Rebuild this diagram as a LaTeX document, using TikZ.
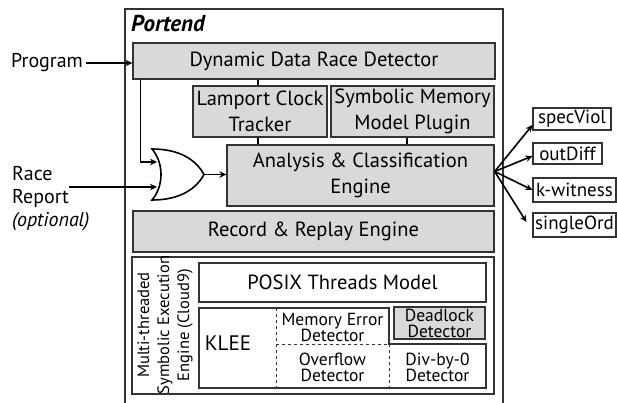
\documentclass[tikz,border=0pt]{standalone}
\usepackage{fontspec}
\setmainfont{PT Sans}
\usetikzlibrary{arrows.meta}
\definecolor{boxgray}{HTML}{D9D9D9}
\definecolor{edge}{HTML}{333333}
\tikzset{
  blk/.style={draw=edge, line width=1.3pt, fill=boxgray, inner sep=0pt, align=center, font=\fontsize{20.5}{25.5}\selectfont},
  wblk/.style={blk, fill=white},
  small/.style={font=\fontsize{17.5}{16}\selectfont, align=center, inner sep=0pt},
  outbox/.style={draw=edge, line width=1.1pt, fill=white, inner sep=0pt, font=\fontsize{19}{22}\selectfont},
  arr/.style={draw=black, line width=1.6pt, -{Stealth[length=7pt,width=6.5pt]}},
  conn/.style={draw=black, line width=1.4pt},
  lbl/.style={font=\fontsize{20}{23}\selectfont, inner sep=0pt, align=left},
}
\begin{document}
\begin{tikzpicture}[x=1pt,y=-1pt]
\useasboundingbox (0,0) rectangle (617,403);
% outer Portend frame (open at bottom)
\draw[draw=edge, line width=1.1pt] (125,410) |- (503,9) -- (503,410);
\node[anchor=west, inner sep=0pt, font=\fontsize{23}{26}\selectfont\bfseries\itshape] (portend) at (131,23) {Portend};

\node[blk, minimum width=362pt, minimum height=36pt] (dyn) at (314,61) {Dynamic Data Race Detector};
\node[blk, minimum width=134pt, minimum height=51pt] (lamport) at (260,111.5) {Lamport Clock\\Tracker};
\node[blk, minimum width=163pt, minimum height=51pt] (symb) at (412.5,111.5) {Symbolic Memory\\Model Plugin};
\node[blk, minimum width=267pt, minimum height=61pt] (analysis) at (360.5,175.5) {Analysis \& Classification\\Engine};
\node[blk, minimum width=361pt, minimum height=41pt] (record) at (313.5,231.5) {Record \& Replay Engine};

% Cloud9 container
\node[wblk, line width=1.1pt, minimum width=362pt, minimum height=137pt] (cloud) at (313,325.5) {};
\node[small, rotate=90, font=\fontsize{16.5}{20}\selectfont] (cloudlbl) at (165,325) {Multi-threaded\\Symbolic Execution\\Engine (Cloud9)};
\node[wblk, line width=1.1pt, minimum width=287pt, minimum height=39pt] (posix) at (342.5,282.5) {POSIX Threads Model};

% KLEE region
\draw[draw=edge, line width=1.1pt, fill=white] (199,308) -- (389,308) -- (389,344) -- (486,344) -- (486,388) -- (199,388) -- cycle;
\node[inner sep=0pt, font=\fontsize{21}{22}\selectfont] (klee) at (228,343) {KLEE};
\draw[draw=edge, line width=0.8pt, dashed] (276,308) -- (276,388);
\draw[draw=edge, line width=0.8pt, dashed] (276,344) -- (389,344);
\draw[draw=edge, line width=0.8pt, dashed] (389,344) -- (389,388);
\node[small] (memerr) at (332.5,327) {Memory Error\\Detector};
\node[small] (overflow) at (332.5,367) {Overflow\\Detector};
\node[small] (divzero) at (437.5,367) {Div-by-0\\Detector};
\node[blk, line width=1.1pt, minimum width=91pt, minimum height=32pt, font=\fontsize{17.5}{16}\selectfont] (deadlock) at (439.5,323) {Deadlock\\Detector};

% vertical connectors
\draw[conn] ([xshift=-2pt]lamport.north) -- ([xshift=-2pt]lamport.north |- dyn.south);
\draw[conn] ([xshift=-2pt]lamport.south) -- ([xshift=-2pt]lamport.south |- analysis.north);
\draw[conn] ([xshift=-5.5pt]symb.south) -- ([xshift=-5.5pt]symb.south |- analysis.north);

% inputs
\node[lbl, anchor=west] (prog) at (11,63) {Program};
\draw[arr] (prog.east) ++(3,0) -- (dyn.west |- prog.east);

\node[lbl, anchor=north west] (race) at (12,166) {Race\\Report\\\textit{(optional)}};
\coordinate (rstart) at (69,187);

% OR gate
\coordinate (in1) at (157,162);
\coordinate (in2) at (157,187);
\coordinate (gout) at (204,174.5);
\draw[draw=black, line width=1.6pt, fill=white] (152,149) .. controls (164,163) and (164,186) .. (152,200)
   .. controls (180,200) and (196,189) .. (gout)
   .. controls (196,160) and (180,149) .. (152,149) -- cycle;
\draw[arr] ([xshift=8pt]dyn.south west) |- (in1);
\draw[arr] (rstart) -- (in2);
\draw[arr] (gout) -- (analysis.west |- gout);

% outputs
\node[outbox, minimum width=78pt, minimum height=22pt] (spec) at (572,119) {specViol};
\node[outbox, minimum width=69pt, minimum height=21pt] (odiff) at (567.5,153.5) {outDiff};
\node[outbox, minimum width=83pt, minimum height=24pt] (kwit) at (574.5,190) {k-witness};
\node[outbox, minimum width=83pt, minimum height=24pt] (single) at (574.5,225) {singleOrd};
\coordinate (fan) at ([yshift=4pt]analysis.east);
\draw[arr] (fan) -- ([yshift=-6pt]spec.west);
\draw[arr] (fan) -- ([yshift=-2.5pt]odiff.west);
\draw[arr] (fan) -- (kwit.west);
\draw[arr] (fan) -- ([xshift=-6pt,yshift=3pt]single.west);
\end{tikzpicture}
\end{document}
